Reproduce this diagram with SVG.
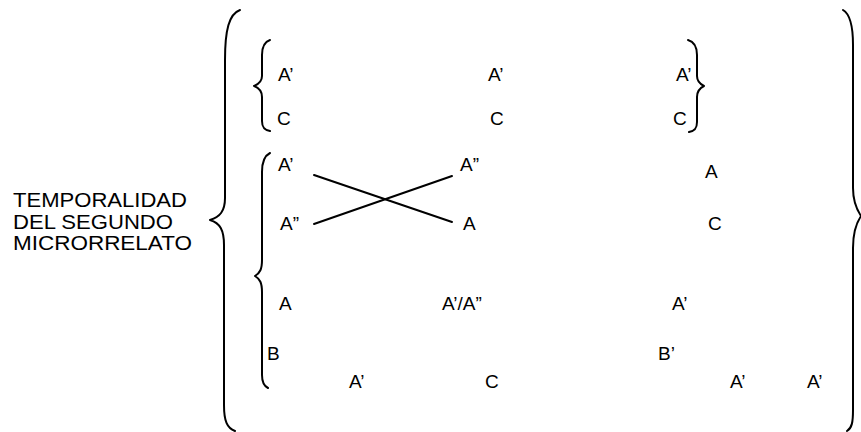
<svg xmlns="http://www.w3.org/2000/svg" width="861" height="432" viewBox="0 0 861 432">
<style>
.b{fill:none;stroke:#000;stroke-width:2;stroke-linecap:round;stroke-linejoin:round}
.t{font-family:"Liberation Sans",Arial,sans-serif;font-size:19px;fill:#000}
.lab{font-family:"Liberation Sans",Arial,sans-serif;font-size:21px;fill:#000}
</style>
<rect width="861" height="432" fill="#fff"/>
<g id="label">
<text class="lab" x="13" y="207" textLength="174" lengthAdjust="spacingAndGlyphs">TEMPORALIDAD</text>
<text class="lab" x="13" y="229" textLength="160" lengthAdjust="spacingAndGlyphs">DEL SEGUNDO</text>
<text class="lab" x="13" y="250" textLength="179" lengthAdjust="spacingAndGlyphs">MICRORRELATO</text>
</g>
<g id="braces">
<path id="brace-outer-left" class="b" d="M240,10 C229,14 225,30 225,60 L225,198 C225,211 220,217 210,220 C220,223 224,230 224,245 L224,405 C224,421 227,428 235,431"/>
<path id="brace-outer-right" class="b" d="M843,10 C850,14 853,25 853,45 L853,188 C853,202 857,210 861,216 C857,222 853,232 853,248 L853,410 C853,422 852,428 847,431"/>
<path id="brace-top-left" class="b" d="M270,40 C264,42 262,47 262,55 L262,76 C262,81 259,84 254,86 C259,88 262,91 262,97 L262,121 C262,127 264,130 270,131"/>
<path id="brace-top-right" class="b" d="M688,40 C695,42 697,47 697,55 L697,76 C697,81 700,84 704,86 C700,88 697,91 697,97 L697,122 C697,128 695,131 689,132"/>
<path id="brace-mid-left" class="b" d="M270,153 C264,156 262,162 262,172 L262,260 C262,269 260,273 255,276 C260,279 262,283 262,292 L262,375 C262,383 264,386 268,388"/>
</g>
<g id="connectors">
<line class="b" x1="314" y1="175" x2="452" y2="222"/>
<line class="b" x1="314" y1="224" x2="452" y2="176"/>
</g>
<g id="nodes">
<g id="r1"><text class="t" x="278" y="81">A’</text><text class="t" x="488" y="81">A’</text><text class="t" x="676" y="81">A’</text></g>
<g id="r2"><text class="t" x="277" y="125">C</text><text class="t" x="490" y="125">C</text><text class="t" x="673" y="125">C</text></g>
<g id="r3"><text class="t" x="278" y="171">A’</text><text class="t" x="460" y="171">A”</text><text class="t" x="705" y="178">A</text></g>
<g id="r4"><text class="t" x="280" y="230">A”</text><text class="t" x="463" y="230">A</text><text class="t" x="708" y="230">C</text></g>
<g id="r5"><text class="t" x="279" y="310">A</text><text class="t" x="442" y="310">A’/A”</text><text class="t" x="672" y="310">A’</text></g>
<g id="r6"><text class="t" x="267" y="360">B</text><text class="t" x="658" y="360">B’</text></g>
<g id="r7"><text class="t" x="349" y="388">A’</text><text class="t" x="485" y="388">C</text><text class="t" x="730" y="388">A’</text><text class="t" x="807" y="388">A’</text></g>
</g>
</svg>
